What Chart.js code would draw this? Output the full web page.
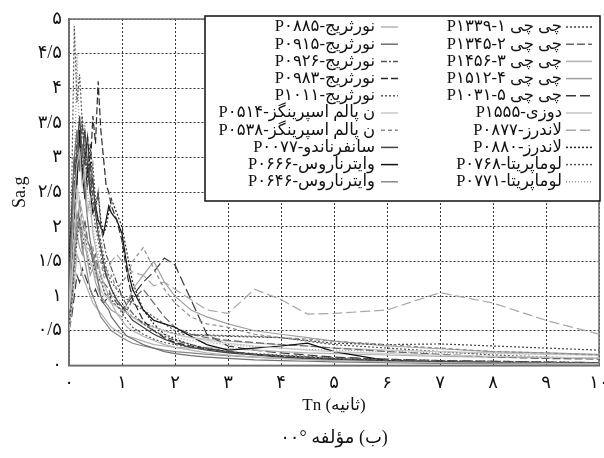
<!DOCTYPE html>
<html>
<head>
<meta charset="utf-8">
<script src="https://cdn.jsdelivr.net/npm/chart.js@4.4.1/dist/chart.umd.min.js"></script>
<style>
  html, body { margin: 0; padding: 0; background: #fff; }
</style>
</head>
<body>
<canvas id="chart" width="604" height="458"></canvas>
<script>
// periods (s) shared by every spectrum
const periods = [0, 0.05, 0.1, 0.15, 0.2, 0.25, 0.3, 0.35, 0.4, 0.45, 0.5, 0.55, 0.6, 0.65, 0.7, 0.75, 0.8,
  0.9, 1.0, 1.1, 1.2, 1.4, 1.6, 1.8, 2.0,
  2.3, 2.6, 3.0, 3.5, 4.0, 4.5, 5, 6, 7, 8, 9, 10];

const seriesNames = [
  'نورثریج-P۰۸۸۵', 'نورثریج-P۰۹۱۵', 'نورثریج-P۰۹۲۶', 'نورثریج-P۰۹۸۳', 'نورثریج-P۱۰۱۱',
  'ن پالم اسپرینگز-P۰۵۱۴', 'ن پالم اسپرینگز-P۰۵۳۸', 'سانفرناندو-P۰۰۷۷', 'وایترناروس-P۰۶۶۶', 'وایترناروس-P۰۶۴۶',
  'چی چی ۱-P۱۳۳۹', 'چی چی ۲-P۱۳۴۵', 'چی چی ۳-P۱۴۵۶', 'چی چی ۴-P۱۵۱۲', 'چی چی ۵-P۱۰۳۱',
  'دوزی-P۱۵۵۵', 'لاندرز-P۰۸۷۷', 'لاندرز-P۰۸۸۰', 'لوماپریتا-P۰۷۶۸', 'لوماپریتا-P۰۷۷۱'
];

// Sa/g values, one array per record
const p0885 = [0.9,1.6,2.4,2.9,3.1,2.6,2.8,2.2,2.4,1.9,1.7,1.5,1.3,1.2,1.1,1.0,0.9,
  0.75,0.65,0.55,0.5,0.42,0.36,0.3,0.26,
  0.22,0.18,0.15,0.12,0.1,0.08,0.07,0.05,0.04,0.035,0.03,0.025];
const p0915 = [1.0,2.0,3.0,3.4,2.8,3.2,2.5,2.1,1.8,1.6,1.4,1.2,1.0,0.9,0.85,0.8,0.7,
  0.6,0.5,0.42,0.38,0.3,0.25,0.2,0.17,
  0.14,0.12,0.1,0.08,0.07,0.06,0.05,0.04,0.03,0.025,0.02,0.02];
const p0926 = [1.2,1.8,2.6,3.3,2.9,3.5,3.0,2.6,2.9,2.4,2.2,2.5,2.0,1.8,1.6,1.5,1.4,
  1.2,1.0,0.85,0.75,0.6,0.5,0.42,0.36,
  0.3,0.25,0.2,0.16,0.13,0.11,0.09,0.07,0.06,0.05,0.04,0.035];
const p0983 = [1.1,1.5,2.2,2.8,3.2,2.7,3.0,3.3,2.8,3.6,3.2,4.1,3.4,3.0,2.6,2.5,2.3,
  2.1,1.8,1.3,0.95,0.65,0.5,0.4,0.33,
  0.28,0.24,0.2,0.16,0.13,0.11,0.09,0.07,0.05,0.04,0.035,0.03];
const p1011 = [1.3,2.5,4.9,3.8,4.2,3.5,3.0,3.3,2.7,2.3,2.0,1.8,1.6,1.4,1.3,1.2,1.1,
  0.9,0.75,0.65,0.55,0.45,0.38,0.33,0.3,
  0.26,0.23,0.2,0.17,0.15,0.13,0.11,0.09,0.07,0.06,0.05,0.04];
const p0514 = [0.8,1.2,1.9,2.5,2.2,2.0,1.8,1.6,1.5,1.4,1.3,1.2,1.1,1.0,1.0,0.95,0.9,
  0.85,0.8,0.75,0.7,0.6,0.55,0.5,0.45,
  0.4,0.36,0.32,0.28,0.25,0.22,0.2,0.17,0.15,0.13,0.12,0.11];
const p0538 = [0.7,1.0,1.5,2.0,2.4,2.1,1.9,1.8,1.6,1.7,1.5,1.4,1.5,1.3,1.4,1.2,1.3,
  1.1,1.2,1.3,1.5,1.7,1.4,1.1,0.9,
  0.7,0.6,0.55,0.45,0.4,0.38,0.35,0.3,0.25,0.2,0.18,0.15];
const p0077 = [1.2,1.6,2.3,3.1,3.6,3.0,3.4,2.9,2.5,2.7,2.2,1.9,1.7,1.5,1.3,1.2,1.1,
  0.95,0.85,0.75,0.65,0.55,0.45,0.38,0.32,
  0.26,0.22,0.18,0.15,0.12,0.1,0.09,0.07,0.05,0.04,0.035,0.03];
const p0666 = [1.5,2.2,3.0,2.6,3.4,2.8,2.4,2.9,2.5,2.2,2.3,2.1,2.0,1.9,2.1,2.3,2.2,
  2.1,1.9,1.4,1.1,0.8,0.65,0.6,0.55,
  0.42,0.3,0.22,0.25,0.28,0.32,0.2,0.07,0.05,0.04,0.035,0.03];
const p0646 = [0.9,1.3,1.8,2.2,2.0,1.7,1.5,1.3,1.1,1.0,0.9,0.8,0.7,0.65,0.6,0.55,0.5,
  0.45,0.4,0.36,0.32,0.28,0.25,0.22,0.2,
  0.18,0.16,0.14,0.12,0.1,0.09,0.08,0.06,0.05,0.04,0.035,0.03];
const p1339 = [0.6,0.9,1.4,1.8,2.1,1.7,1.9,1.6,1.4,1.5,1.3,1.2,1.3,1.1,1.0,1.05,0.95,
  0.85,0.8,0.75,0.7,0.62,0.56,0.5,0.46,
  0.44,0.43,0.42,0.41,0.4,0.36,0.32,0.3,0.31,0.28,0.25,0.22];
const p1345 = [0.7,1.0,1.6,2.0,2.3,1.9,2.1,1.8,1.7,1.5,1.6,1.4,1.3,1.2,1.15,1.1,1.0,
  0.9,0.85,0.8,0.95,1.1,0.9,0.7,0.55,
  0.45,0.4,0.36,0.33,0.3,0.28,0.25,0.2,0.16,0.12,0.1,0.09];
const p1456 = [0.5,0.8,1.2,1.6,1.5,1.3,1.2,1.1,1.0,0.9,0.85,0.8,0.75,0.7,0.65,0.6,0.55,
  0.5,0.45,0.42,0.4,0.35,0.3,0.28,0.26,
  0.25,0.26,0.24,0.22,0.2,0.18,0.17,0.15,0.13,0.12,0.11,0.1];
const p1512 = [0.6,1.0,1.5,1.9,1.7,1.6,1.8,1.5,1.3,1.4,1.2,1.1,1.0,0.95,0.9,0.85,0.8,
  0.75,0.7,0.9,1.1,1.3,1.5,1.2,1.0,
  0.8,0.7,0.6,0.5,0.45,0.4,0.35,0.28,0.24,0.2,0.18,0.16];
const p1031 = [0.5,0.7,1.0,1.3,1.2,1.4,1.3,1.2,1.1,1.0,1.1,1.0,0.95,0.9,0.95,1.0,0.9,
  0.85,0.8,0.9,1.0,1.2,1.35,1.55,1.45,
  0.95,0.45,0.28,0.22,0.18,0.15,0.12,0.09,0.07,0.06,0.05,0.04];
const p1555 = [0.8,1.3,2.0,2.6,2.4,2.2,2.0,1.8,1.7,1.5,1.4,1.3,1.2,1.1,1.0,0.95,0.9,
  0.85,0.8,0.75,0.7,0.6,0.55,0.5,0.45,
  0.4,0.38,0.35,0.32,0.3,0.28,0.25,0.22,0.2,0.18,0.16,0.15];
const p0877 = [0.7,1.0,1.5,1.9,2.1,1.8,1.7,1.6,1.5,1.4,1.5,1.3,1.2,1.25,1.3,1.4,1.5,
  1.6,1.5,1.4,1.35,1.3,1.15,1.2,1.1,
  0.95,0.8,0.75,1.1,0.95,0.74,0.75,0.8,1.05,0.9,0.65,0.45];
const p0880 = [1.0,1.6,2.4,3.0,3.3,2.8,3.1,2.7,3.2,2.6,2.3,2.5,2.1,1.9,2.0,2.2,2.4,
  2.2,2.0,1.6,1.2,0.8,0.6,0.45,0.38,
  0.3,0.24,0.2,0.16,0.14,0.12,0.1,0.07,0.05,0.04,0.035,0.03];
const p0768 = [0.9,1.4,2.1,2.7,3.2,3.6,2.9,3.3,2.6,2.9,2.4,2.0,1.8,1.6,1.4,1.3,1.2,
  1.1,1.0,0.95,0.9,0.8,0.7,0.6,0.5,
  0.45,0.44,0.43,0.42,0.4,0.35,0.3,0.25,0.2,0.15,0.12,0.1];
const p0771 = [0.8,1.5,2.6,4.5,3.2,2.8,3.5,2.5,2.2,2.0,1.8,1.6,1.5,1.4,1.3,1.2,1.1,
  1.0,0.9,0.8,0.7,0.6,0.5,0.45,0.4,
  0.36,0.33,0.3,0.27,0.25,0.23,0.22,0.2,0.18,0.17,0.16,0.15];

const seriesValues = [p0885, p0915, p0926, p0983, p1011, p0514, p0538, p0077, p0666, p0646,
  p1339, p1345, p1456, p1512, p1031, p1555, p0877, p0880, p0768, p0771];

// line styles, same order as the names
const lineColors = ['#b4b4b4', '#707070', '#555555', '#2a2a2a', '#555555',
  '#c8c8c8', '#8c8c8c', '#444444', '#111111', '#8a8a8a',
  '#444444', '#666666', '#b0b0b0', '#a0a0a0', '#3a3a3a',
  '#c4c4c4', '#a8a8a8', '#222222', '#555555', '#999999'];
const lineDashes = [[], [], [6, 2, 2, 2], [7, 3], [2, 2],
  [], [4, 3], [], [], [],
  [2, 2], [8, 3], [], [], [10, 4],
  [], [10, 4], [2, 2], [2, 2], [1, 2]];

const FONT = '"Liberation Serif", "DejaVu Sans", serif';
const faDigits = '۰۱۲۳۴۵۶۷۸۹';
const toFa = v => String(v).replace(/\d/g, d => faDigits[d]).replace('.', '/');

// solid frame round the plot (top/right edges would otherwise be dotted grid)
const frameBox = {
  id: 'frameBox',
  beforeDatasetsDraw(chart) {
    const { ctx, chartArea: a } = chart;
    ctx.save();
    ctx.strokeStyle = '#6e6e6e';
    ctx.lineWidth = 1.5;
    ctx.strokeRect(a.left, a.top, a.right - a.left, a.bottom - a.top);
    ctx.restore();
  }
};

// two-column legend boxed inside the plot, top right
const insetLegend = {
  id: 'insetLegend',
  afterDatasetsDraw(chart) {
    const { ctx, chartArea: a } = chart;
    const left = a.left + 136, top = a.top - 3, right = a.right + 1, bottom = a.top + 182;
    ctx.save();
    ctx.fillStyle = '#fff';
    ctx.fillRect(left, top, right - left, bottom - top);
    ctx.strokeStyle = '#111';
    ctx.lineWidth = 1.5;
    ctx.strokeRect(left, top, right - left, bottom - top);
    ctx.font = '16.5px ' + FONT;
    ctx.direction = 'rtl';
    ctx.textAlign = 'right';
    ctx.textBaseline = 'middle';
    chart.data.datasets.forEach((ds, i) => {
      const col = i < 10 ? 0 : 1;
      const y = top + 11 + (i % 10) * 17.2;
      const x0 = left + (col ? 361 : 176), x1 = left + (col ? 387 : 193);
      ctx.strokeStyle = ds.borderColor;
      ctx.lineWidth = 1.5;
      ctx.setLineDash(ds.borderDash);
      ctx.beginPath();
      ctx.moveTo(x0, y);
      ctx.lineTo(x1, y);
      ctx.stroke();
      ctx.setLineDash([]);
      ctx.fillStyle = '#111';
      ctx.fillText(ds.label, left + (col ? 357 : 170), y);
    });
    ctx.restore();
  }
};

new Chart(document.getElementById('chart'), {
  type: 'line',
  data: {
    datasets: seriesValues.map((vals, i) => ({
      label: seriesNames[i],
      data: periods.map((t, j) => ({ x: t, y: vals[j] })),
      borderColor: lineColors[i],
      borderDash: lineDashes[i],
      borderWidth: 1.2,
      pointRadius: 0,
      fill: false,
      tension: 0
    }))
  },
  options: {
    responsive: false,
    animation: false,
    layout: { padding: { left: 5, top: 19, right: 5, bottom: 0 } },
    plugins: {
      legend: { display: false },
      tooltip: { enabled: false },
      title: {
        display: true,
        position: 'bottom',
        fullSize: false,
        text: '\u202B(ب) مؤلفه °۰۰\u202C',
        color: '#111',
        font: { family: FONT, size: 18, weight: 'normal' },
        padding: { top: 8, bottom: 9 }
      }
    },
    scales: {
      x: {
        type: 'linear',
        min: 0,
        max: 10,
        ticks: { stepSize: 1, padding: 7, maxRotation: 0, color: '#111',
          font: { family: FONT, size: 18 }, callback: v => toFa(v) },
        grid: { color: '#333', lineWidth: 1, drawTicks: false },
        border: { display: true, color: '#6e6e6e', width: 1.5, dash: [2, 2] },
        title: { display: true, text: 'Tn (ثانیه)', color: '#111', font: { family: FONT, size: 17 } },
        afterFit: s => { s.height = 54; s.paddingRight = 0; }
      },
      y: {
        min: 0,
        max: 5,
        ticks: { stepSize: 0.5, padding: 7, color: '#111',
          font: { family: FONT, size: 18 }, callback: v => toFa(v) },
        grid: { color: '#333', lineWidth: 1, drawTicks: false },
        border: { display: true, color: '#6e6e6e', width: 1.5, dash: [2, 2] },
        title: { display: true, text: 'Sa.g', color: '#111', font: { family: FONT, size: 18 } },
        afterFit: s => { s.width = 64; }
      }
    }
  },
  plugins: [frameBox, insetLegend]
});
</script>
</body>
</html>
